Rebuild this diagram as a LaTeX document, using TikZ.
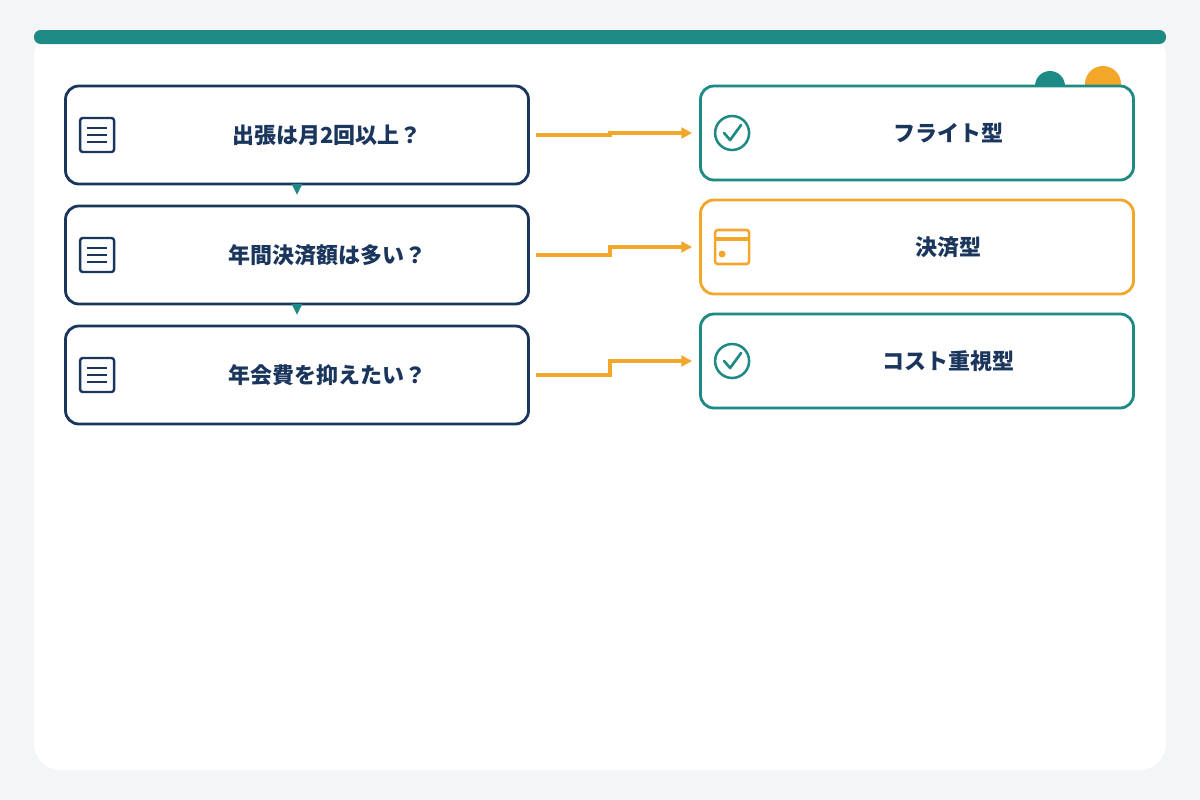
\documentclass[tikz,border=0pt]{standalone}
\usepackage{fontspec}
\setmainfont{Noto Sans CJK JP}
\usetikzlibrary{arrows.meta,positioning}
\definecolor{navy}{HTML}{1B365D}
\definecolor{teal}{HTML}{1E8A85}
\definecolor{amber}{HTML}{F2A72B}
\definecolor{bg}{HTML}{F3F5F7}

\begin{document}
\begin{tikzpicture}[x=0.75pt,y=-0.75pt,
  question/.style={draw=navy,line width=2.1pt,rounded corners=10pt,fill=white,minimum width=463*0.75pt,minimum height=98*0.75pt},
  result/.style={draw=teal,line width=2.1pt,rounded corners=10pt,fill=white,minimum width=433*0.75pt,minimum height=94*0.75pt},
  resultO/.style={result,draw=amber},
  txt/.style={font=\bfseries\fontsize{16.5}{18}\selectfont,text=navy},
  flow/.style={draw=amber,line width=2.6pt,shorten >=7*0.75pt,-{Triangle[length=8pt,width=8pt]}},
  down/.style={draw=teal,line width=0.1pt,shorten >=10*0.75pt,-{Triangle[length=8pt,width=8pt]}}]
\def\docicon#1{%
\draw[navy,line width=1.8pt,rounded corners=2pt] ([xshift=16*0.75pt,yshift=17*0.75pt]#1.west) rectangle ([xshift=50*0.75pt,yshift=-17*0.75pt]#1.west);
\foreach \dy in {-7,0,7}
  \draw[navy,line width=1.2pt] ([xshift=23*0.75pt,yshift=\dy*0.75pt]#1.west) -- ([xshift=43*0.75pt,yshift=\dy*0.75pt]#1.west);}
\def\checkicon#1{%
\draw[teal,line width=1.9pt] ([xshift=33*0.75pt]#1.west) circle (17*0.75pt);
\draw[teal,line width=2pt,line cap=round,line join=round] ([xshift=25*0.75pt]#1.west) -- ([xshift=31*0.75pt,yshift=-7*0.75pt]#1.west) -- ([xshift=42*0.75pt,yshift=8*0.75pt]#1.west);}

% background and card
\fill[bg] (0,0) rectangle (1200,800);
\fill[white,rounded corners=20pt] (34,30) rectangle (1166,770);
\fill[teal,rounded corners=5pt] (34,30) rectangle (1166,44);
\fill[teal] (1050,86) circle (15);
\fill[amber] (1103,84) circle (18);

% questions
\node[question] (q1) at (297,135) {};
\node[question] (q2) at (297,255) {};
\node[question] (q3) at (297,375) {};
\node[txt] at (327,135) {出張は月2回以上？};
\node[txt] at (327,255) {年間決済額は多い？};
\node[txt] at (327,375) {年会費を抑えたい？};
\docicon{q1}
\docicon{q2}
\docicon{q3}
\draw[down] (q1.south) -- (q2.north);
\draw[down] (q2.south) -- (q3.north);

% results
\node[result] (r1) at (917,133) {};
\node[resultO] (r2) at (917,247) {};
\node[result] (r3) at (917,361) {};
\node[txt] at (948,133) {フライト型};
\node[txt] at (948,247) {決済型};
\node[txt] at (948,361) {コスト重視型};
\checkicon{r1}
\checkicon{r3}
\draw[amber,line width=1.9pt,rounded corners=2pt] ([xshift=16*0.75pt,yshift=17*0.75pt]r2.west) rectangle ([xshift=50*0.75pt,yshift=-17*0.75pt]r2.west);
\draw[amber,line width=3pt] ([xshift=16*0.75pt,yshift=8*0.75pt]r2.west) -- ([xshift=50*0.75pt,yshift=8*0.75pt]r2.west);
\fill[amber] ([xshift=23*0.75pt,yshift=-7*0.75pt]r2.west) circle (3.5);

% connectors
\draw[flow] ([xshift=6*0.75pt]q1.east) -- ([xshift=80*0.75pt]q1.east) |- (r1.west);
\draw[flow] ([xshift=6*0.75pt]q2.east) -- ([xshift=80*0.75pt]q2.east) |- (r2.west);
\draw[flow] ([xshift=6*0.75pt]q3.east) -- ([xshift=80*0.75pt]q3.east) |- (r3.west);
\end{tikzpicture}
\end{document}
